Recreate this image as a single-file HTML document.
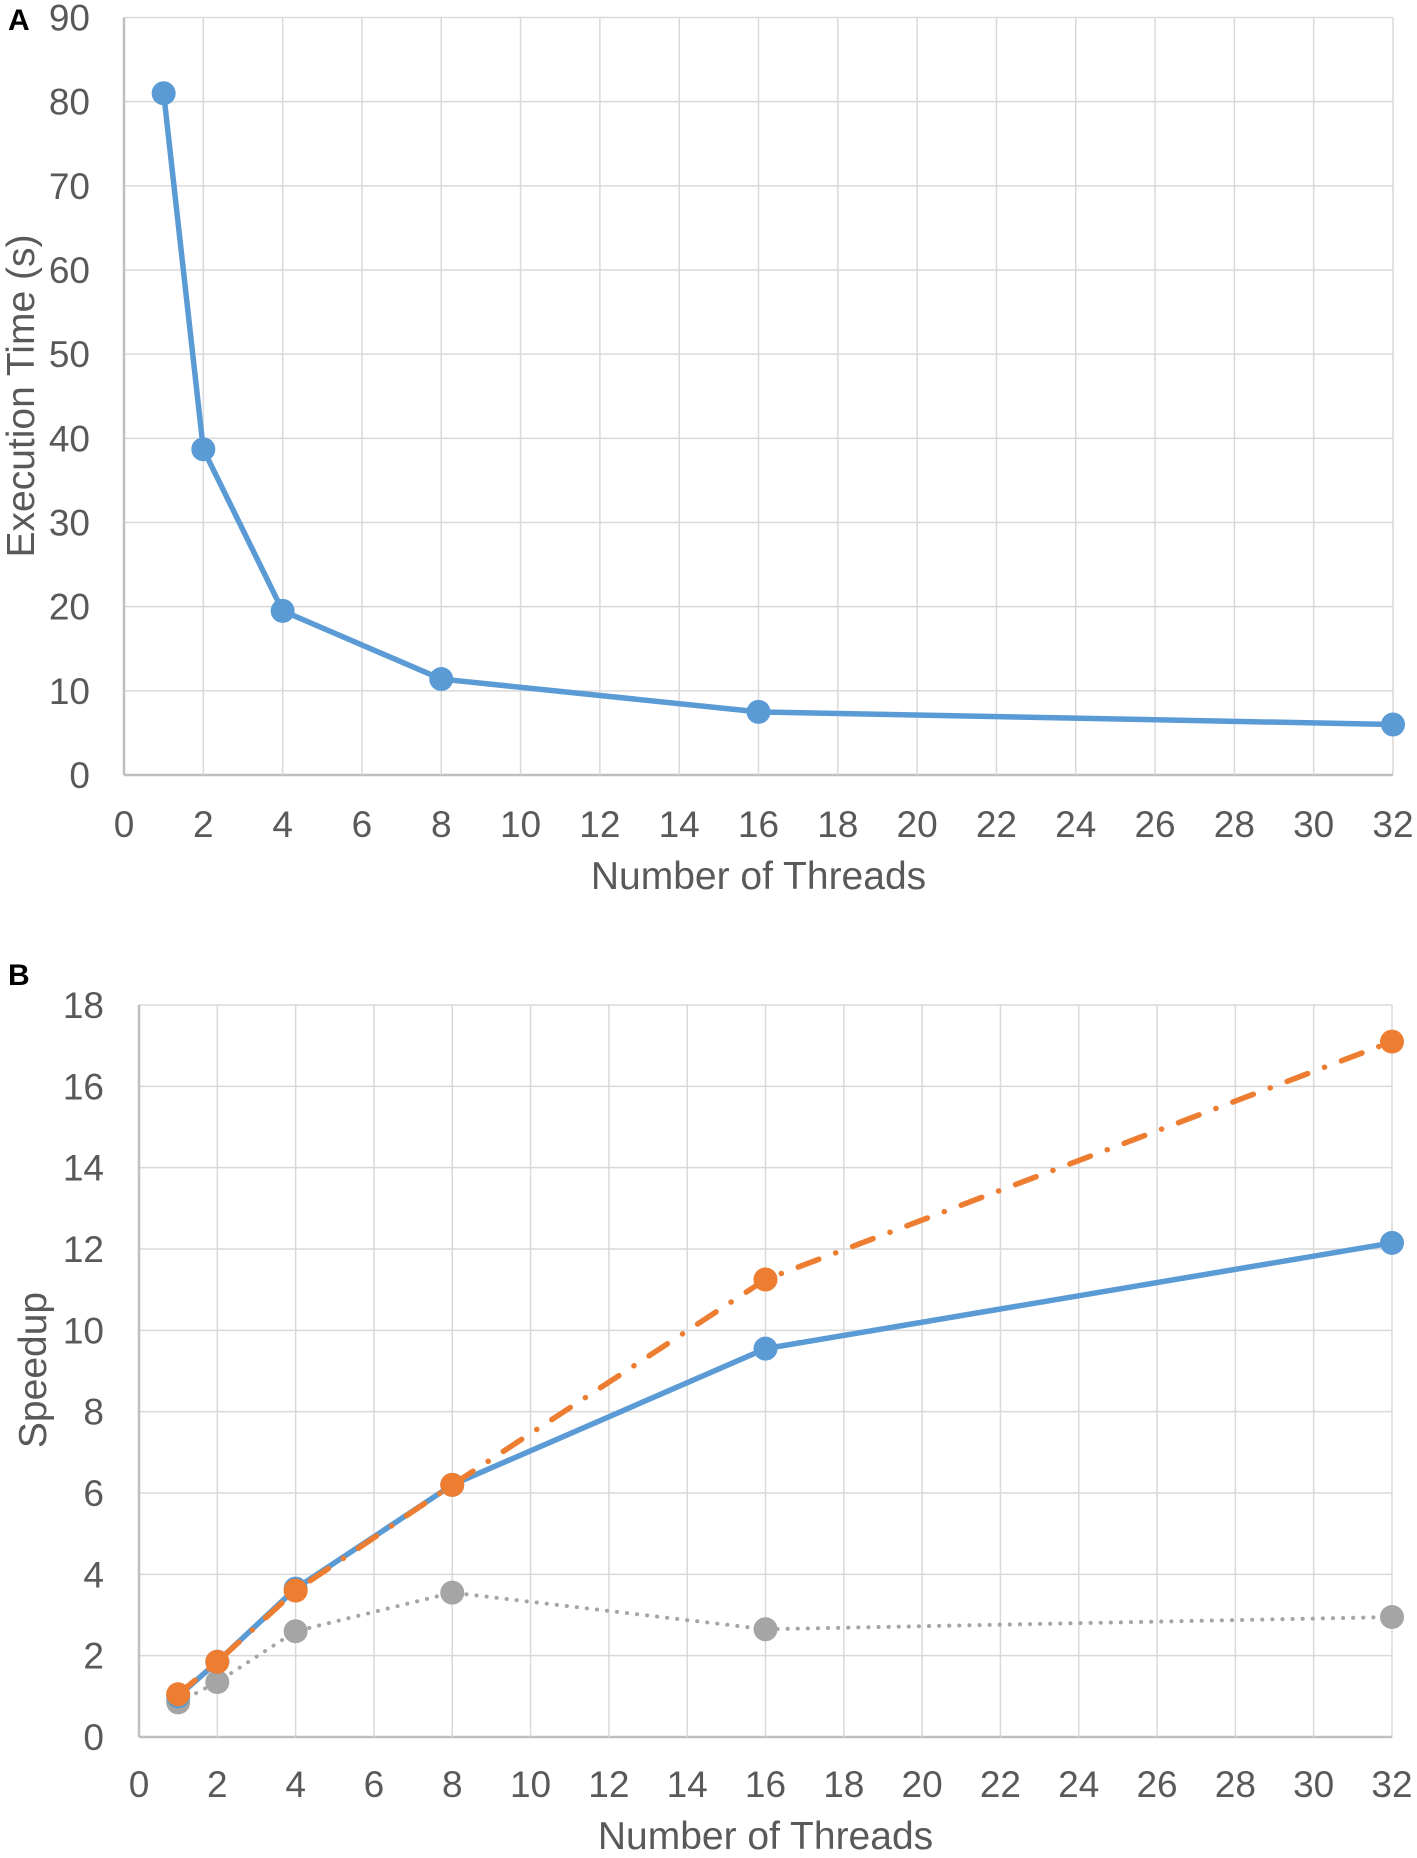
<!DOCTYPE html>
<html><head><meta charset="utf-8"><style>
body{margin:0;background:#fff;}
svg text{font-family:"Liberation Sans",sans-serif;fill:#595959;}
</style></head><body>
<svg id="svg" width="1417" height="1853" xmlns="http://www.w3.org/2000/svg"></svg>
<script>
const xTicks=[0,2,4,6,8,10,12,14,16,18,20,22,24,26,28,30,32];
const threads=[1,2,4,8,16,32];
const execTime=[81,38.7,19.5,11.4,7.5,6.0];
const aYTicks=[0,10,20,30,40,50,60,70,80,90];
const speedupBlue=[1,1.85,3.65,6.2,9.55,12.15];
const speedupOrange=[1.05,1.85,3.6,6.2,11.25,17.1];
const speedupGray=[0.85,1.35,2.6,3.55,2.65,2.95];
const bYTicks=[0,2,4,6,8,10,12,14,16,18];

const NS='http://www.w3.org/2000/svg';
const svg=document.getElementById('svg');
function mk(tag,attrs,parent){const e=document.createElementNS(NS,tag);for(const k in attrs)e.setAttribute(k,attrs[k]);(parent||svg).appendChild(e);return e;}

function panel(cfg){
  const g=mk('g',{});
  
  
  const sx=v=>cfg.x0+(v-0)/32*(cfg.x1-cfg.x0);
  const sy=v=>cfg.y0-(v/cfg.ymax)*(cfg.y0-cfg.y1);
  cfg.yTicks.forEach(t=>{
    const l=mk('line',{x1:cfg.x0,x2:cfg.x1,y1:sy(t),y2:sy(t),stroke:t===0?'#bfbfbf':'#d9d9d9','stroke-width':t===0?2.5:1.5},g);
    
    
    const tx=mk('text',{x:cfg.ylabX,y:sy(t)+13,'text-anchor':'end','font-size':37},g);
    tx.textContent=t;
    
    
  });
  xTicks.forEach(t=>{
    const l=mk('line',{x1:sx(t),x2:sx(t),y1:cfg.y1,y2:cfg.y0,stroke:t===0?'#bfbfbf':'#d9d9d9','stroke-width':t===0?2.5:1.5},g);
    
    
    const tx=mk('text',{x:sx(t),y:cfg.xlabY,'text-anchor':'middle','font-size':37},g);
    tx.textContent=t;
    
    
  });
  const xt=mk('text',{x:(cfg.x0+cfg.x1)/2,y:cfg.xtitleY,'text-anchor':'middle','font-size':39},g);
  xt.textContent='Number of Threads';
  
  
  const yt=mk('text',{x:0,y:0,'text-anchor':'middle','font-size':39,transform:`translate(${cfg.ytitleX},${cfg.ytitleY}) rotate(-90)`},g);
  yt.textContent=cfg.ytitle;
  
  
  const pl=mk('text',{x:8,y:cfg.labelY,'font-size':30,'font-weight':'bold',style:'fill:#000'},g);
  pl.textContent=cfg.label;
  
  
  cfg.series.forEach(s=>{
    const pts=threads.map((t,i)=>sx(t)+','+sy(s.vals[i])).join(' ');
    const attrs={points:pts,fill:'none',stroke:s.color,'stroke-width':s.w,'stroke-linejoin':'round','stroke-linecap':'round'};
    if(s.dash)attrs['stroke-dasharray']=s.dash;
    const p=mk('polyline',attrs,g);
    
    
    threads.forEach((t,i)=>{
      const c=mk('circle',{cx:sx(t),cy:sy(s.vals[i]),r:12,fill:s.color},g);
      
      
    });
  });
}
panel({name:'panel-a-execution-time',x0:124,x1:1393,y0:775,y1:17.5,ymax:90,yTicks:aYTicks,ylabX:90,xlabY:837,xtitleY:889,ytitle:'Execution Time (s)',ytitleX:34,ytitleY:396,label:'A',labelY:30,
  series:[{name:'execution-time',vals:execTime,color:'#5b9bd5',w:5.5}]});
panel({name:'panel-b-speedup',x0:139,x1:1392,y0:1737,y1:1005,ymax:18,yTicks:bYTicks,ylabX:104,xlabY:1797,xtitleY:1849,ytitle:'Speedup',ytitleX:46,ytitleY:1370,label:'B',labelY:985,
  series:[{name:'speedup-gray',vals:speedupGray,color:'#a5a5a5',w:4,dash:'0.1 10'},
          {name:'speedup-blue',vals:speedupBlue,color:'#5b9bd5',w:5.5},
          {name:'speedup-orange',vals:speedupOrange,color:'#ed7d31',w:5.5,dash:'22 18 0.1 18'}]});
</script>
</body></html>
